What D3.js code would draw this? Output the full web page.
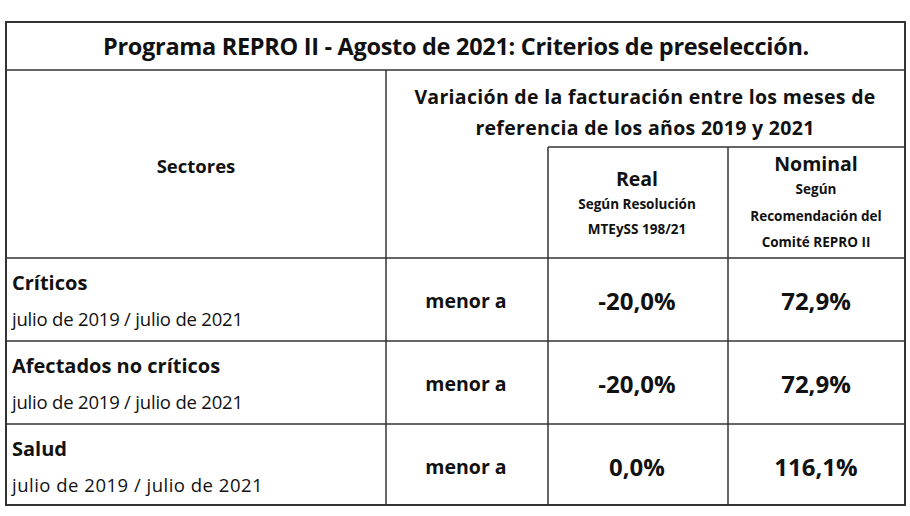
<!DOCTYPE html><html><head><meta charset="utf-8"><script src="https://cdn.jsdelivr.net/npm/d3@7"></script>
<style>body{margin:0;background:#fff}text{font-family:"Open Sans",sans-serif;fill:#111}</style></head><body><svg width="910" height="516"></svg>
<script>
const title="Programa REPRO II - Agosto de 2021: Criterios de preselección.";
const sectors=["Críticos","Afectados no críticos","Salud"];
const periods=["julio de 2019 / julio de 2021","julio de 2019 / julio de 2021","julio de 2019 / julio de 2021"];
const condition=["menor a","menor a","menor a"];
const realValues=["-20,0%","-20,0%","0,0%"];
const nominalValues=["72,9%","72,9%","116,1%"];
const svg=d3.select("svg");
const L=6,R=905,T=22,B=505,c1=386,c2=548,c3=728;
const rowY=d3.scaleOrdinal().domain(sectors).range([258,341,424]);
const g=svg.append("g").attr("stroke","#333").attr("stroke-width",1.5);
g.append("rect").attr("x",L).attr("y",T).attr("width",R-L).attr("height",B-T).attr("fill","none").attr("stroke-width",2);
[70].concat(sectors.map(rowY)).forEach(y=>g.append("line").attr("x1",L).attr("x2",R).attr("y1",y).attr("y2",y));
g.append("line").attr("x1",c2).attr("x2",R).attr("y1",147).attr("y2",147);
g.append("line").attr("x1",c1).attr("x2",c1).attr("y1",70).attr("y2",B);
[c2,c3].forEach(x=>g.append("line").attr("x1",x).attr("x2",x).attr("y1",147).attr("y2",B));
function t(x,y,s,size,w,a,ls){const e=svg.append("text").attr("x",x).attr("y",y).attr("font-size",size).attr("font-weight",w||"bold").attr("text-anchor",a||"middle").attr("dominant-baseline","central").text(s);if(ls)e.attr("letter-spacing",ls);}
t(456,46,title,23.5,"bold","middle",-0.3);
t(645,96,"Variación de la facturación entre los meses de",19.5,"bold","middle",0.3);
t(645,127,"referencia de los años 2019 y 2021",19.5,"bold","middle",0.3);
t(196,165,"Sectores",18.5);
t(637,178,"Real",19.5);t(637,204,"Según Resolución",13.5);t(637,229,"MTEySS 198/21",13.5);
t(816,163,"Nominal",19.5);t(816,189,"Según",13.5);t(816,216,"Recomendación del",13.5);t(816,242,"Comité REPRO II",13.5);
sectors.forEach((s,i)=>{const y=rowY(s);
 t(12,y+24,s,20,"bold","start");t(12,y+60,periods[i],18.5,"normal","start",i==2?0.5:-0.2);
 t(466,y+42,condition[i],19.5);t(637,y+42,realValues[i],24);t(816,y+42,nominalValues[i],24);});
</script></body></html>
